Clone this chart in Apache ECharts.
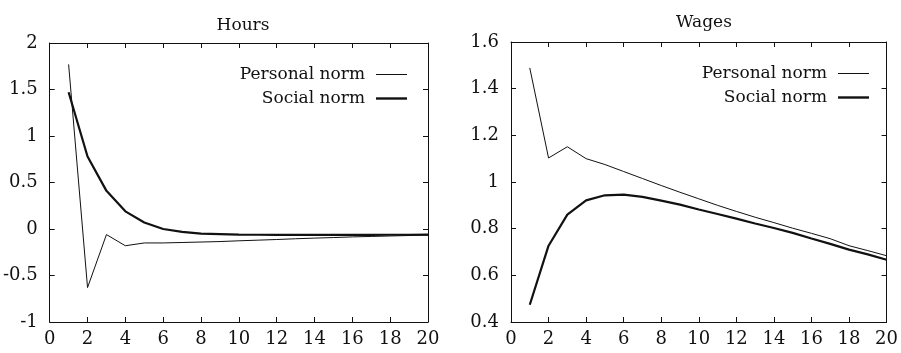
<!DOCTYPE html>
<html>
<head>
<meta charset="utf-8">
<script src="https://cdn.jsdelivr.net/npm/echarts@6/dist/echarts.min.js"></script>
<style>
  html, body { margin: 0; padding: 0; background: #fff; }
  #chart { width: 901px; height: 353px; }
</style>
</head>
<body>
<div id="chart"></div>
<script>
const periods = [1, 2, 3, 4, 5, 6, 7, 8, 9, 10, 11, 12, 13, 14, 15, 16, 17, 18, 19, 20]
const hoursPersonal = [1.77, -0.63, -0.06, -0.18, -0.15, -0.15, -0.145, -0.14, -0.135, -0.127, -0.12, -0.113, -0.105, -0.098, -0.092, -0.085, -0.08, -0.075, -0.07, -0.065]
const hoursSocial = [1.47, 0.78, 0.41, 0.19, 0.07, 0.0, -0.03, -0.05, -0.055, -0.06, -0.062, -0.063, -0.064, -0.064, -0.064, -0.063, -0.063, -0.062, -0.062, -0.06]
const wagesPersonal = [1.489, 1.103, 1.151, 1.1, 1.075, 1.045, 1.015, 0.985, 0.956, 0.928, 0.9, 0.874, 0.849, 0.826, 0.802, 0.78, 0.757, 0.727, 0.706, 0.684]
const wagesSocial = [0.474, 0.727, 0.86, 0.921, 0.943, 0.946, 0.936, 0.92, 0.903, 0.882, 0.863, 0.843, 0.822, 0.803, 0.782, 0.758, 0.735, 0.71, 0.69, 0.667]
const seriesNames = ['Personal norm', 'Social norm']

const font = 'DejaVu Serif'
const ink = '#111'
const pairs = (vals) => periods.map((t, i) => [t, vals[i]])

function axisBase(extra) {
  return {
    type: 'value',
    axisLine: { show: true, onZero: false, lineStyle: { color: ink, width: 1 } },
    axisTick: { show: true, inside: true, length: 5, lineStyle: { color: ink } },
    splitLine: { show: false },
    axisLabel: { color: ink, fontFamily: font, fontSize: 18 },
    ...extra,
  }
}

function xAxes(grid) {
  return [
    axisBase({ gridIndex: grid, min: 0, max: 20, interval: 2, position: 'bottom', axisLabel: { color: ink, fontFamily: font, fontSize: 18, margin: 8 } }),
    axisBase({ gridIndex: grid, min: 0, max: 20, interval: 2, position: 'top', axisLabel: { show: false } }),
  ]
}

function yAxes(grid, min, max, interval) {
  return [
    axisBase({ gridIndex: grid, min, max, interval, position: 'left', axisLabel: { color: ink, fontFamily: font, fontSize: 18, margin: 12 } }),
    axisBase({ gridIndex: grid, min, max, interval, position: 'right', axisLabel: { show: false } }),
  ]
}

function lines(xi, yi, personal, social) {
  return [
    { name: seriesNames[0], type: 'line', xAxisIndex: xi, yAxisIndex: yi, data: pairs(personal), symbol: 'none', lineStyle: { color: ink, width: 1 }, itemStyle: { color: ink } },
    { name: seriesNames[1], type: 'line', xAxisIndex: xi, yAxisIndex: yi, data: pairs(social), symbol: 'none', lineStyle: { color: ink, width: 2.2 }, itemStyle: { color: ink } },
  ]
}

// legend keys drawn as plain strokes, thin for personal, thick for social
function legend(right, top) {
  return {
    data: [
      { name: seriesNames[0], icon: 'path://M0,0H31V1H0Z' },
      { name: seriesNames[1], icon: 'path://M0,0H31V2.4H0Z' },
    ],
    orient: 'vertical', align: 'right', right, top,
    itemWidth: 31, itemHeight: 14, itemGap: 7, selectedMode: false, symbolKeepAspect: true,
    itemStyle: { color: ink, borderWidth: 0 },
    textStyle: { color: ink, fontFamily: font, fontSize: 17, padding: [0, 6, 0, 0] },
  }
}

const chart = echarts.init(document.getElementById('chart'), null, { renderer: 'canvas' })
chart.setOption({
  animation: false,
  backgroundColor: '#fff',
  title: [
    { text: 'Hours', left: 238, top: 12, textAlign: 'center', textStyle: { color: ink, fontFamily: font, fontSize: 17, fontWeight: 'normal' } },
    { text: 'Wages', left: 699, top: 9, textAlign: 'center', textStyle: { color: ink, fontFamily: font, fontSize: 17, fontWeight: 'normal' } },
  ],
  legend: [legend(489, 61), legend(27, 60)],
  grid: [
    { left: 49, right: 473, top: 43, bottom: 31 },
    { left: 511, right: 11, top: 42, bottom: 31 },
  ],
  xAxis: [...xAxes(0), ...xAxes(1)],
  yAxis: [...yAxes(0, -1, 2, 0.5), ...yAxes(1, 0.4, 1.6, 0.2)],
  series: [...lines(0, 0, hoursPersonal, hoursSocial), ...lines(2, 2, wagesPersonal, wagesSocial)],
})
</script>
</body>
</html>
